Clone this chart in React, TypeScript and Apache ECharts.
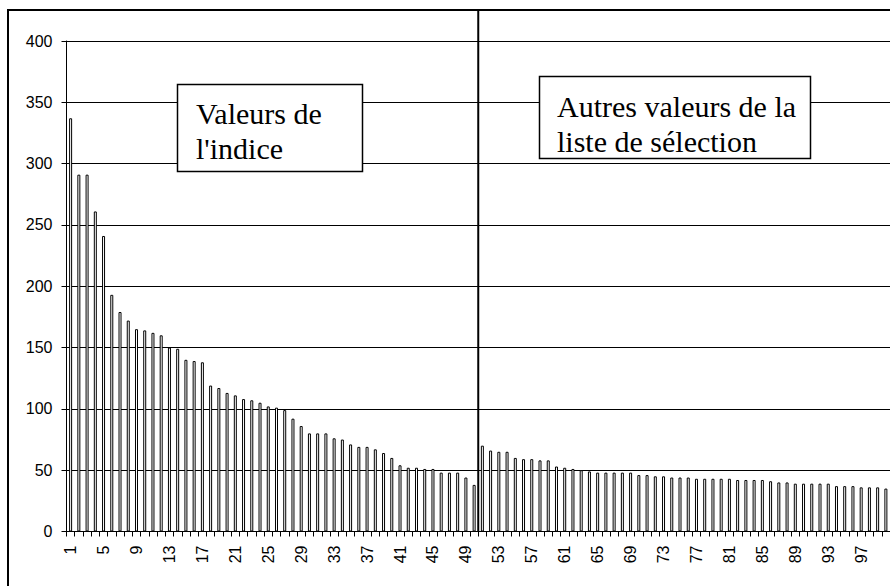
import React, { useEffect, useRef } from "react";
import * as echarts from "echarts";

// Category labels 1..100
const categories: string[] = [
  "1","2","3","4","5","6","7","8","9","10","11","12","13","14","15","16","17","18","19","20",
  "21","22","23","24","25","26","27","28","29","30","31","32","33","34","35","36","37","38","39","40",
  "41","42","43","44","45","46","47","48","49","50","51","52","53","54","55","56","57","58","59","60",
  "61","62","63","64","65","66","67","68","69","70","71","72","73","74","75","76","77","78","79","80",
  "81","82","83","84","85","86","87","88","89","90","91","92","93","94","95","96","97","98","99","100",
];

// Index values (1..50)
const indexValues: number[] = [
  337, 291, 291, 261, 241, 193, 179, 172, 165, 164,
  162, 160, 150, 149, 140, 139, 138, 119, 117, 113,
  111, 108, 107, 105, 102, 101, 99, 92, 86, 80,
  80, 80, 76, 75, 71, 69, 69, 67, 64, 60,
  54, 52, 52, 51, 51, 48, 48, 48, 44, 38,
];

// Other values of the selection list (51..100)
const otherValues: number[] = [
  70, 66, 65, 65, 60, 59, 59, 58, 58, 53,
  52, 51, 50, 49, 48, 48, 48, 48, 48, 46,
  46, 45, 45, 44, 44, 44, 43, 43, 43, 43,
  43, 42, 42, 42, 42, 41, 40, 40, 39, 39,
  39, 39, 39, 37, 37, 37, 36, 36, 36, 35,
];

const yTicks: number[] = [0, 50, 100, 150, 200, 250, 300, 350, 400];

const boxLeftText = "Valeurs de\nl'indice";
const boxRightText = "Autres valeurs de la\nliste de sélection";

export default function App() {
  const ref = useRef<HTMLDivElement>(null);

  useEffect(() => {
    if (!ref.current) return;
    const chart = echarts.init(ref.current, null, { renderer: "svg" });
    const values = [...indexValues, ...otherValues];
    const axisFont = "Liberation Sans";
    const serif = "'Liberation Serif', 'Times New Roman', serif";

    const baseOption: any = {
      animation: false,
      backgroundColor: "#ffffff",
      grid: { left: 66.5, right: -2.5, top: 41, bottom: 54.5, containLabel: false },
      xAxis: {
        type: "category",
        data: categories,
        boundaryGap: true,
        axisLine: { show: true, lineStyle: { color: "#000", width: 1 } },
        axisTick: { show: true, inside: false, length: 5, interval: 0, lineStyle: { color: "#000" } },
        axisLabel: {
          show: true,
          interval: 3,
          rotate: 90,
          margin: 14,
          fontSize: 16,
          color: "#000",
          fontFamily: axisFont,
        },
        splitLine: { show: false },
      },
      yAxis: {
        type: "value",
        min: yTicks[0],
        max: yTicks[yTicks.length - 1],
        interval: 50,
        axisLine: { show: true, lineStyle: { color: "#000", width: 1 } },
        axisTick: { show: true, inside: false, length: 5, lineStyle: { color: "#000" } },
        axisLabel: {
          show: true,
          margin: 14,
          fontSize: 16,
          color: "#000",
          fontFamily: axisFont,
        },
        splitLine: { show: true, lineStyle: { color: "#000", width: 1 } },
      },
      series: [
        {
          type: "bar",
          data: values,
          barWidth: 3,
          itemStyle: { color: "#ffffff", borderColor: "#000000", borderWidth: 1 },
        },
      ],
    };
    chart.setOption(baseOption);

    const p50 = chart.convertToPixel({ xAxisIndex: 0 }, categories[49]) as number;
    const p51 = chart.convertToPixel({ xAxisIndex: 0 }, categories[50]) as number;
    const y0 = chart.convertToPixel({ yAxisIndex: 0 }, 0) as number;
    const divX = (p50 + p51) / 2;

    chart.setOption({
      graphic: [
        {
          type: "rect",
          shape: { x: 8, y: 10, width: 900, height: 600 },
          style: { fill: "none", stroke: "#000", lineWidth: 2 },
          silent: true,
          z: 100,
        },
        {
          type: "line",
          shape: { x1: divX, y1: 10, x2: divX, y2: y0 },
          style: { stroke: "#000", lineWidth: 2 },
          silent: true,
          z: 100,
        },
        {
          type: "rect",
          shape: { x: 177.5, y: 84.5, width: 185, height: 87 },
          style: { fill: "#fff", stroke: "#000", lineWidth: 1.5 },
          z: 101,
        },
        {
          type: "text",
          x: 196,
          y: 96,
          style: {
            text: boxLeftText,
            font: `30px ${serif}`,
            fill: "#000",
            lineHeight: 35,
            verticalAlign: "top",
            align: "left",
          },
          z: 102,
        },
        {
          type: "rect",
          shape: { x: 539.5, y: 76.5, width: 271, height: 82 },
          style: { fill: "#fff", stroke: "#000", lineWidth: 1.5 },
          z: 101,
        },
        {
          type: "text",
          x: 557,
          y: 89,
          style: {
            text: boxRightText,
            font: `30px ${serif}`,
            fill: "#000",
            lineHeight: 35,
            verticalAlign: "top",
            align: "left",
          },
          z: 102,
        },
      ],
    });

    return () => chart.dispose();
  }, []);

  return <div ref={ref} style={{ width: 890, height: 586, position: "absolute", left: 0, top: 0 }} />;
}
